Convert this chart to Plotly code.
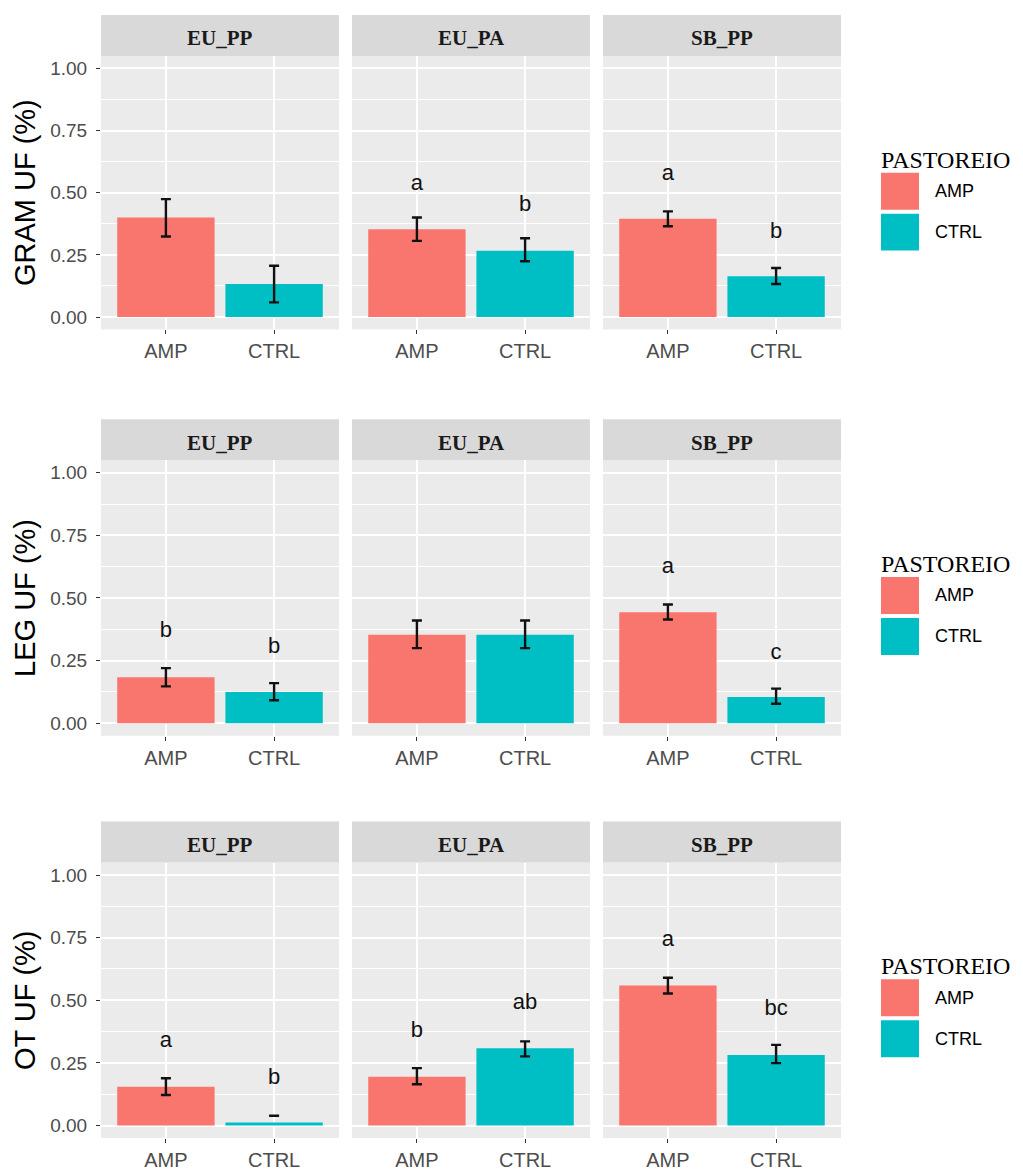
import plotly.graph_objects as go

# ---------------- data ----------------
sites = ["EU_PP", "EU_PA", "SB_PP"]
groups = ["AMP", "CTRL"]
metric_titles = ["GRAM UF (%)", "LEG UF (%)", "OT UF (%)"]
legend_title = "PASTOREIO"

# order: EU_PP AMP, EU_PP CTRL, EU_PA AMP, EU_PA CTRL, SB_PP AMP, SB_PP CTRL
gram_mean = [0.400, 0.133, 0.353, 0.266, 0.395, 0.164]
gram_lo   = [0.324, 0.059, 0.306, 0.224, 0.365, 0.133]
gram_hi   = [0.474, 0.206, 0.400, 0.317, 0.425, 0.197]
gram_let  = ["", "", "a", "b", "a", "b"]
gram_let_y = [None, None, 0.534, 0.447, 0.574, 0.340]

leg_mean = [0.184, 0.125, 0.353, 0.353, 0.443, 0.105]
leg_lo   = [0.147, 0.092, 0.300, 0.300, 0.414, 0.078]
leg_hi   = [0.220, 0.160, 0.410, 0.410, 0.474, 0.138]
leg_let  = ["b", "b", "", "", "a", "c"]
leg_let_y = [0.366, 0.304, None, None, 0.623, 0.279]

ot_mean = [0.155, 0.012, 0.195, 0.309, 0.559, 0.282]
ot_lo   = [0.122, 0.039, 0.165, 0.276, 0.527, 0.249]
ot_hi   = [0.189, 0.039, 0.229, 0.336, 0.590, 0.322]
ot_let  = ["a", "b", "b", "ab", "a", "bc"]
ot_let_y = [0.336, 0.189, 0.376, 0.487, 0.740, 0.463]

y_ticks = [0.0, 0.25, 0.5, 0.75, 1.0]
y_ticktext = ["0.00", "0.25", "0.50", "0.75", "1.00"]

# ---------------- style / layout ----------------
OFF = 8  # page body margin
W, H = 1023 - OFF, 1171 - OFF
AMP_COL, CTRL_COL = "#F8766D", "#00BFC4"
colors = [AMP_COL, CTRL_COL]
col_px = [(101, 339), (352, 590), (603, 841)]
row_px = [(56, 330), (461, 737), (864, 1140)]
STRIP_H = 41

rows = [
    (gram_mean, gram_lo, gram_hi, gram_let, gram_let_y),
    (leg_mean, leg_lo, leg_hi, leg_let, leg_let_y),
    (ot_mean, ot_lo, ot_hi, ot_let, ot_let_y),
]


def fx(px):
    return (px - OFF) / W


def fy(py):
    return 1 - (py - OFF) / H


fig = go.Figure()
shapes = []
annotations = []
layout_axes = {}

for r, (mean, lo, hi, let, let_y) in enumerate(rows):
    top, bot = row_px[r]
    for c, site in enumerate(sites):
        k = r * 3 + c + 1
        xa = "x" if k == 1 else f"x{k}"
        ya = "y" if k == 1 else f"y{k}"
        sl = slice(2 * c, 2 * c + 2)
        m = mean[sl]
        l = lo[sl]
        h = hi[sl]
        fig.add_trace(go.Bar(
            x=groups, y=m, width=0.9,
            marker=dict(color=colors, line=dict(width=0)),
            xaxis=xa, yaxis=ya, showlegend=False, hoverinfo="skip",
        ))
        centers = [(a + b) / 2 for a, b in zip(l, h)]
        halves = [(b - a) / 2 for a, b in zip(l, h)]
        fig.add_trace(go.Scatter(
            x=groups, y=centers, mode="markers",
            marker=dict(size=0.1, opacity=0),
            error_y=dict(type="data", array=halves, symmetric=True,
                         color="#111111", thickness=2.4, width=5),
            xaxis=xa, yaxis=ya, showlegend=False, hoverinfo="skip",
        ))
        lt = let[sl]
        ly = let_y[sl]
        lx = [g for g, t in zip(groups, lt) if t]
        lyy = [v for v, t in zip(ly, lt) if t]
        ltt = [t for t in lt if t]
        if ltt:
            fig.add_trace(go.Scatter(
                x=lx, y=lyy, text=ltt, mode="text",
                textposition="middle center",
                textfont=dict(family="Liberation Sans, Arial", size=22, color="#111111"),
                xaxis=xa, yaxis=ya, showlegend=False, hoverinfo="skip",
            ))

        x0, x1 = col_px[c]
        xkey = "xaxis" if k == 1 else f"xaxis{k}"
        ykey = "yaxis" if k == 1 else f"yaxis{k}"
        layout_axes[xkey] = dict(
            domain=[fx(x0), fx(x1)], anchor=ya, type="category",
            categoryorder="array", categoryarray=groups,
            range=[-0.6, 1.6], showgrid=True, gridcolor="white", gridwidth=1.5,
            ticks="outside", ticklen=4, tickwidth=1, tickcolor="#333333",
            tickfont=dict(family="Liberation Sans, Arial", size=20, color="#4D4D4D"),
            ticklabelstandoff=0,
            showline=False, zeroline=False, fixedrange=True,
        )
        layout_axes[ykey] = dict(
            domain=[fy(bot), fy(top)], anchor=xa,
            range=[-0.05, 1.05], tickmode="array", tickvals=y_ticks,
            ticktext=y_ticktext if c == 0 else [""] * len(y_ticks),
            showticklabels=(c == 0),
            ticks="outside" if c == 0 else "", ticklen=4, tickwidth=1, tickcolor="#333333",
            tickfont=dict(family="Liberation Sans, Arial", size=19, color="#4D4D4D"),
            ticklabelstandoff=5,
            showgrid=True, gridcolor="white", gridwidth=1.5,
            minor=dict(tickvals=[0.125, 0.375, 0.625, 0.875], showgrid=True,
                       gridcolor="white", gridwidth=0.7, ticks=""),
            zeroline=False, showline=False, fixedrange=True,
        )
        if c == 0:
            layout_axes[ykey]["title"] = dict(
                text=metric_titles[r], standoff=6,
                font=dict(family="Liberation Sans, Arial", size=29, color="black"),
            )

        # strip
        shapes.append(dict(type="rect", xref="paper", yref="paper",
                           x0=fx(x0), x1=fx(x1), y0=fy(top), y1=fy(top - STRIP_H),
                           fillcolor="#D9D9D9", line=dict(width=0), layer="below"))
        annotations.append(dict(
            text=f"<b>{site}</b>", xref="paper", yref="paper",
            x=fx((x0 + x1) / 2), y=fy(top - STRIP_H / 2 + 3),
            xanchor="center", yanchor="middle", showarrow=False,
            font=dict(family="Liberation Serif, Times New Roman", size=21, color="#1A1A1A"),
        ))

    # legend for this row
    ltitle_y = top + 104
    annotations.append(dict(
        text=legend_title, xref="paper", yref="paper",
        x=fx(879), y=fy(ltitle_y), xanchor="left", yanchor="middle", showarrow=False,
        font=dict(family="Liberation Serif, Times New Roman", size=24, color="black"),
    ))
    for i, g in enumerate(groups):
        kt = top + 117 + i * 41
        shapes.append(dict(type="rect", xref="paper", yref="paper",
                           x0=fx(881), x1=fx(919), y0=fy(kt + 37), y1=fy(kt),
                           fillcolor=colors[i], line=dict(width=0)))
        annotations.append(dict(
            text=g, xref="paper", yref="paper",
            x=fx(933), y=fy(kt + 18.5), xanchor="left", yanchor="middle", showarrow=False,
            font=dict(family="Liberation Sans, Arial", size=18, color="black"),
        ))

fig.update_layout(
    width=W, height=H, autosize=False,
    margin=dict(l=0, r=0, t=0, b=0),
    paper_bgcolor="white", plot_bgcolor="#EBEBEB",
    barmode="overlay", showlegend=False,
    shapes=shapes, annotations=annotations,
    **layout_axes,
)

fig.write_html("out.html")
